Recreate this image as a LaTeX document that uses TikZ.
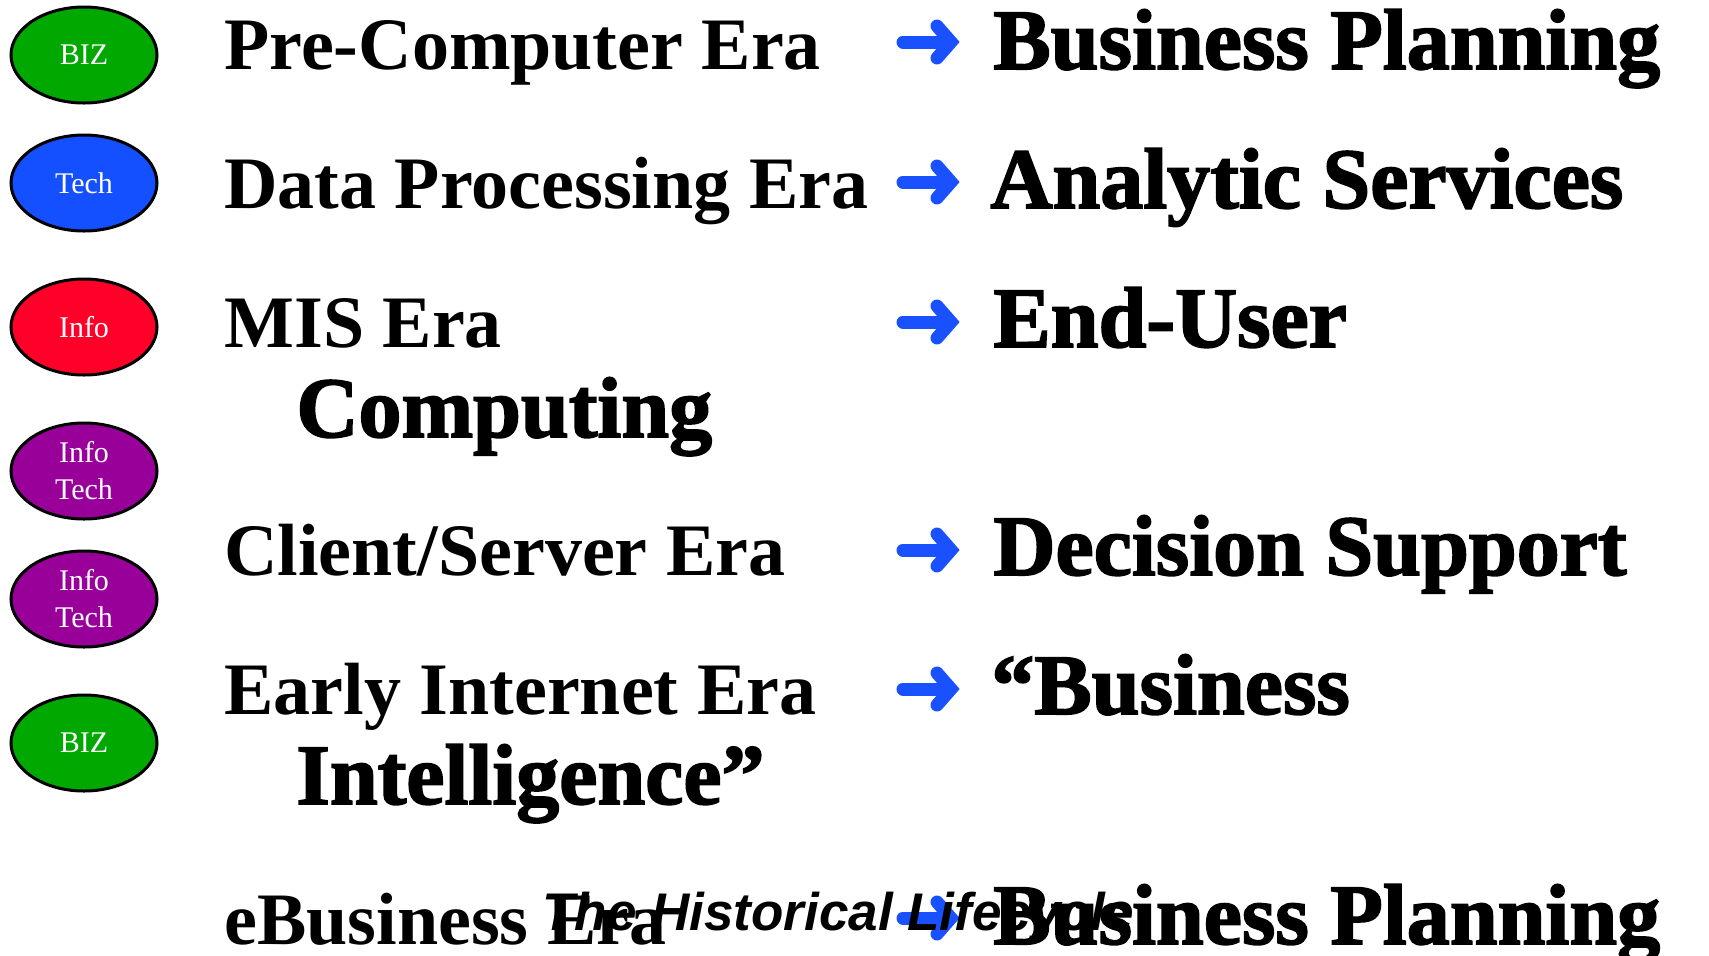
\documentclass[tikz,border=0pt]{standalone}
\usepackage{fontspec}
\setmainfont{Liberation Serif}
\newfontfamily\heavy{Liberation Serif}[BoldFeatures={FakeBold=2}]
\newfontfamily\titlefont{Liberation Sans}
\usetikzlibrary{shapes.geometric}
\definecolor{bizgreen}{RGB}{0,168,0}
\definecolor{techblue}{RGB}{20,80,255}
\definecolor{infored}{RGB}{255,0,40}
\definecolor{itpurple}{RGB}{153,0,153}
\definecolor{arrowblue}{RGB}{25,80,255}
\begin{document}
\begin{tikzpicture}[x=0.5pt,y=-0.5pt,
  badge/.style={ellipse, draw=black, line width=1.5pt, minimum width=73pt, minimum height=48pt, inner sep=0pt, text=white, font=\fontsize{15}{18.5}\selectfont, align=center},
  era/.style={anchor=base west, inner sep=0pt, font=\fontsize{37}{44}\selectfont\bfseries},
  result/.style={anchor=base west, inner sep=0pt, font=\fontsize{43}{50}\selectfont\heavy\bfseries},
  captiontext/.style={anchor=base west, inner sep=0pt, font=\fontsize{26.5}{30}\selectfont\titlefont\bfseries\itshape},
  arrowline/.style={arrowblue, line width=6.5pt, line cap=round, line join=miter},
  bluearrow/.pic={
    \draw[arrowline] (-24,0) -- (18,0);
    \draw[arrowline] (10,-16) -- (24,0) -- (10,16);
  }
]
\useasboundingbox (0,0) rectangle (1709,955);
\fill[white] (0,0) rectangle (1709,955);

% badges
\node[badge, fill=bizgreen] (b1) at (84,55) {BIZ};
\node[badge, fill=techblue] (b2) at (84,183) {Tech};
\node[badge, fill=infored] (b3) at (84,327) {Info};
\node[badge, fill=itpurple] (b4) at (84,471) {Info\\Tech};
\node[badge, fill=itpurple] (b5) at (84,599) {Info\\Tech};
\node[badge, fill=bizgreen] (b6) at (84,743) {BIZ};

% eras
\node[era] (e1) at (224,69) {Pre-Computer Era};
\node[era] (e2) at (224,208) {Data Processing Era};
\node[era] (e3) at (224,347) {MIS Era};
\node[result] (r3b) at (296,437) {Computing};
\node[era] (e4) at (224,575) {Client/Server Era};
\node[era] (e5) at (224,714) {Early Internet Era};
\node[result] (r5b) at (296,804) {Intelligence”};
\node[era] (e6) at (224,944) {eBusiness Era};

% arrows
\pic at (927,42) {bluearrow};
\pic at (927,182) {bluearrow};
\pic at (927,322) {bluearrow};
\pic at (927,550) {bluearrow};
\pic at (927,689) {bluearrow};
\pic at (927,918) {bluearrow};

% results
\node[result] (r1) at (993,69) {Business Planning};
\node[result] (r2) at (990,208) {Analytic Services};
\node[result] (r3) at (993,347) {End-User};
\node[result] (r4) at (993,575) {Decision Support};
\node[result] (r5) at (991,714) {“Business};
\node[result] (r6) at (993,944) {Business Planning};

% title
\node[captiontext] (title) at (542,930) {The Historical Lifecycle};
\end{tikzpicture}
\end{document}
